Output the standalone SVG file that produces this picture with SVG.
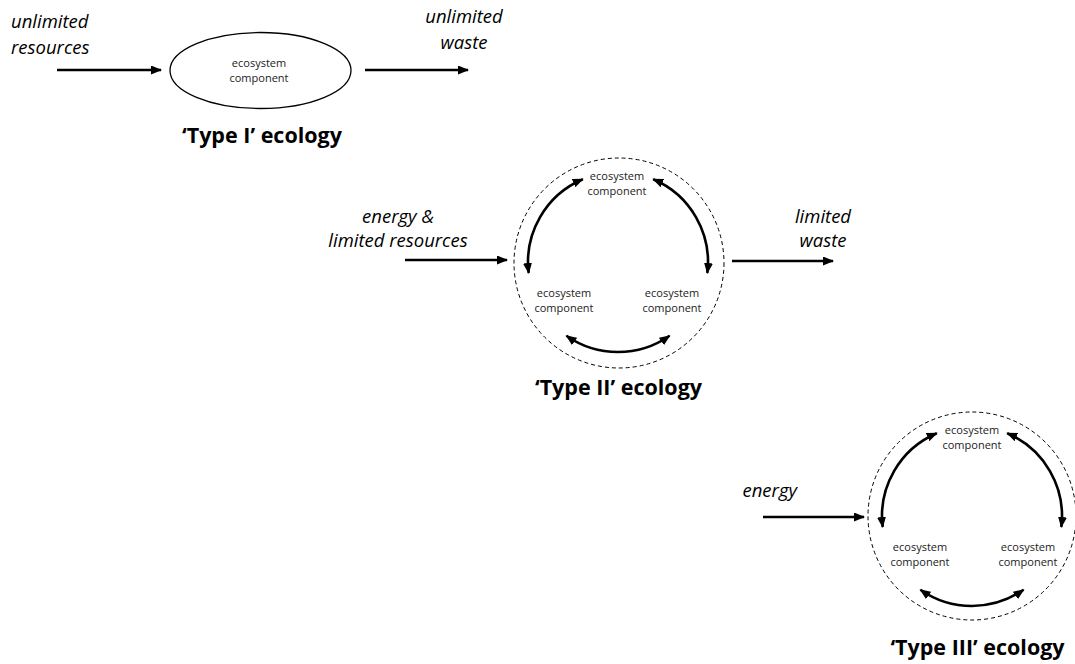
<svg xmlns="http://www.w3.org/2000/svg" width="1075" height="664" viewBox="0 0 1075 664">
<style>
  .lbl { font-family: "Open Sans", "Liberation Sans", sans-serif; font-style: italic; font-size: 18.5px; fill: #000; }
  .node { font-family: "Open Sans", "Liberation Sans", sans-serif; font-size: 11px; fill: #222; text-anchor: middle; }
  .title { font-family: "Open Sans", "Liberation Sans", sans-serif; font-weight: bold; font-size: 21.5px; fill: #000; text-anchor: middle; }
  .arr { fill: none; stroke: #000; stroke-width: 2.6; marker-end: url(#ah); }
  .arc { fill: none; stroke: #000; stroke-width: 2.6; marker-start: url(#ah); marker-end: url(#ah); }
  .bound { fill: none; stroke: #000; stroke-width: 1; stroke-dasharray: 4 3; }
</style>
<defs>
  <marker id="ah" viewBox="0 0 11 9" refX="10" refY="4.5" markerWidth="11" markerHeight="9" markerUnits="userSpaceOnUse" orient="auto-start-reverse">
    <path d="M0,0 L11,4.5 L0,9 z" fill="#000"/>
  </marker>
</defs>
<rect width="1075" height="664" fill="#fff"/>

<!-- Type I -->
<g id="type1">
  <g id="t1-resources">
    <text class="lbl" x="11" y="28">unlimited</text>
    <text class="lbl" x="11" y="54">resources</text>
  </g>
  <g id="t1-component">
    <ellipse cx="260.5" cy="70.5" rx="90.5" ry="38" fill="none" stroke="#000" stroke-width="1.3"/>
    <text class="node" x="259" y="67">ecosystem</text>
    <text class="node" x="259" y="82">component</text>
  </g>
  <g id="t1-waste">
    <text class="lbl" x="464" y="23" text-anchor="middle">unlimited</text>
    <text class="lbl" x="464" y="49" text-anchor="middle">waste</text>
  </g>
  <text class="title" x="262" y="143">‘Type I’ ecology</text>
</g>

<!-- Type II -->
<g id="type2">
  <g id="t2-input">
    <text class="lbl" x="398" y="223" text-anchor="middle">energy &amp;</text>
    <text class="lbl" x="398" y="247" text-anchor="middle">limited resources</text>
  </g>
  <g id="t2-system">
    <circle class="bound" cx="619" cy="263" r="105"/>
  </g>
  <g id="t2-top">
    <text class="node" x="617" y="180">ecosystem</text>
    <text class="node" x="617" y="195">component</text>
  </g>
  <g id="t2-left">
    <text class="node" x="564" y="297">ecosystem</text>
    <text class="node" x="564" y="312">component</text>
  </g>
  <g id="t2-right">
    <text class="node" x="672" y="297">ecosystem</text>
    <text class="node" x="672" y="312">component</text>
  </g>
  <g id="t2-waste">
    <text class="lbl" x="823" y="223" text-anchor="middle">limited</text>
    <text class="lbl" x="823" y="247" text-anchor="middle">waste</text>
  </g>
  <text class="title" x="618.5" y="395">‘Type II’ ecology</text>
</g>

<!-- Type III -->
<g id="type3">
  <g id="t3-input">
    <text class="lbl" x="797" y="497" text-anchor="end">energy</text>
  </g>
  <g id="t3-system">
    <circle class="bound" cx="972" cy="516" r="104"/>
  </g>
  <g id="t3-top">
    <text class="node" x="972" y="434">ecosystem</text>
    <text class="node" x="972" y="449">component</text>
  </g>
  <g id="t3-left">
    <text class="node" x="920" y="551">ecosystem</text>
    <text class="node" x="920" y="566">component</text>
  </g>
  <g id="t3-right">
    <text class="node" x="1028" y="551">ecosystem</text>
    <text class="node" x="1028" y="566">component</text>
  </g>
  <text class="title" x="977.5" y="655">‘Type III’ ecology</text>
</g>

<g id="connectors">
  <path class="arr" d="M57,70 L161,70"/>
  <path class="arr" d="M365,70 L468,70"/>
  <path class="arr" d="M405,260 L507,260"/>
  <path class="arr" d="M732,261 L833,261"/>
  <path class="arr" d="M763,517 L864,517"/>
  <path class="arc" d="M582.8,179.2 A90,90 0 0 0 528.7,273"/>
  <path class="arc" d="M653.2,179.2 A90,90 0 0 1 707.3,273"/>
  <path class="arc" d="M566.4,335.7 A90,90 0 0 0 669.6,335.7"/>
  <path class="arc" d="M936.8,433.2 A90,90 0 0 0 882.7,527"/>
  <path class="arc" d="M1007.2,433.2 A90,90 0 0 1 1061.3,527"/>
  <path class="arc" d="M920.4,589.7 A90,90 0 0 0 1023.6,589.7"/>
</g>
</svg>
